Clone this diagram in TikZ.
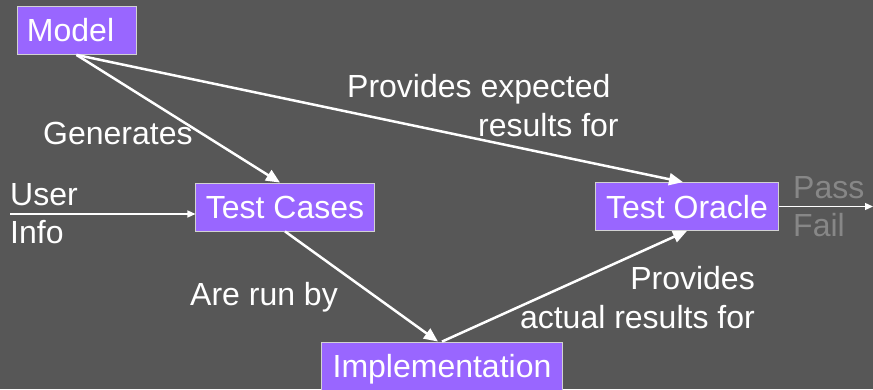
\documentclass[tikz,border=0pt]{standalone}
\usepackage{fontspec}
\setmainfont{Liberation Sans}
\usetikzlibrary{arrows.meta}
\definecolor{slidebg}{RGB}{87,87,87}
\definecolor{boxfill}{RGB}{153,102,255}
\definecolor{dimtext}{RGB}{135,135,135}

\begin{document}
\begin{tikzpicture}[x=1pt, y=1pt,
    font=\fontsize{32}{38}\selectfont, text=white,
    box/.style={draw=gray!35, line width=0.8pt, fill=boxfill, inner xsep=10pt, inner ysep=0pt,
        minimum height=48pt, text height=23pt, text depth=0pt},
    flow/.style={draw=white, line width=2.5pt, -{Triangle[length=14pt, width=12pt]}},
    feed/.style={draw=white, line width=1.3pt, -{Triangle[length=8pt, width=7pt]}},
    lbl/.style={anchor=base west, inner sep=0pt}]
    \useasboundingbox (0,0) rectangle (873,389);
    \fill[slidebg] (0,0) rectangle (873,389);

    \node[box, text width=99pt, align=left] (model) at (76.5,358.5) {Model};
    \node[box] (cases) at (285,182) {Test Cases};
    \node[box, inner xsep=10.5pt] (oracle) at (687,182.5) {Test Oracle};
    \node[box, inner xsep=11pt] (impl) at (442,23) {Implementation};
    \coordinate (user) at (10,175);
    \coordinate (out) at (873,182.5);

    \draw[flow] (model.south) -- ([xshift=-5pt]cases.north);
    \draw[flow] (model.south) -- ([xshift=-4pt]oracle.north);
    \draw[flow] (cases.south) -- ([xshift=-4pt]impl.north);
    \draw[flow] (impl.north) -- (oracle.south);
    \draw[feed] (user) -- ([yshift=-7pt]cases.west);
    \draw[feed] (oracle.east) -- (out);

    % labels
    \node[lbl] (gen) at (43,244) {Generates};
    \node[lbl] (exp1) at (347,291) {Provides expected};
    \node[lbl] (exp2) at (478,252) {results for};
    \node[lbl] (run) at (190,84) {Are run by};
    \node[lbl, anchor=base east] (act1) at (755,100) {Provides};
    \node[lbl, anchor=base east] (act2) at (755,61) {actual results for};
    \node[lbl] (usr) at (10,184) {User};
    \node[lbl] (inf) at (10,146) {Info};
    \node[lbl, text=dimtext] (pass) at (793,191) {Pass};
    \node[lbl, text=dimtext] (fail) at (793,153) {Fail};
\end{tikzpicture}
\end{document}
